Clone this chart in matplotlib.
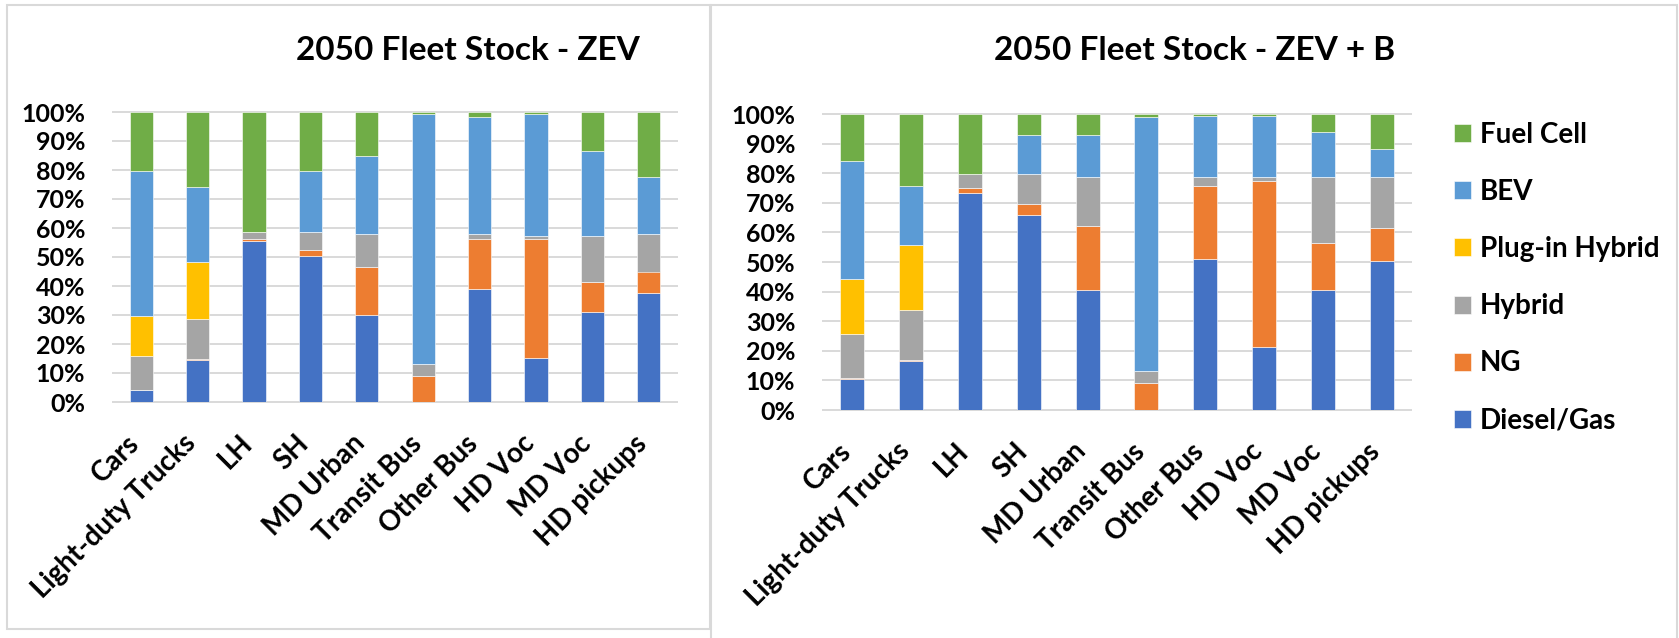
import matplotlib
matplotlib.use("Agg")
import matplotlib.pyplot as plt
import matplotlib.transforms as mtransforms
from matplotlib.patches import Rectangle
import numpy as np

plt.rcParams['font.family'] = ['Lato', 'DejaVu Sans']
plt.rcParams['font.weight'] = 'bold'

categories = ["Cars", "Light-duty Trucks", "LH", "SH", "MD Urban",
              "Transit Bus", "Other Bus", "HD Voc", "MD Voc", "HD pickups"]
series_names = ["Diesel/Gas", "NG", "Hybrid", "Plug-in Hybrid", "BEV", "Fuel Cell"]
series_colors = ["#4472C4", "#ED7D31", "#A5A5A5", "#FFC000", "#5B9BD5", "#70AD47"]

# 2050 fleet stock shares (%), ZEV scenario
zev_diesel = [4.0, 14.5, 55.5, 50.5, 30.0, 0.0, 39.0, 15.3, 31.0, 37.7]
zev_ng = [0.2, 0.2, 0.6, 2.0, 16.5, 9.1, 17.2, 41.0, 10.5, 7.3]
zev_hybrid = [11.8, 14.0, 2.4, 6.1, 11.3, 3.9, 1.6, 1.0, 15.8, 13.0]
zev_phev = [13.5, 19.6, 0, 0, 0, 0, 0, 0, 0, 0]
zev_bev = [50.0, 26.0, 0.0, 21.0, 27.0, 86.2, 40.6, 42.1, 29.2, 19.5]
zev_fc = [20.5, 25.7, 41.5, 20.4, 15.2, 0.8, 1.6, 0.6, 13.5, 22.5]

# 2050 fleet stock shares (%), ZEV + B scenario
zevb_diesel = [10.5, 16.6, 73.4, 66.0, 40.7, 0.0, 51.0, 21.2, 40.7, 50.2]
zevb_ng = [0.3, 0.2, 1.7, 3.7, 21.6, 9.2, 24.8, 56.1, 15.6, 11.4]
zevb_hybrid = [14.9, 17.1, 4.5, 9.9, 16.4, 3.9, 2.9, 1.4, 22.4, 17.1]
zevb_phev = [18.7, 21.8, 0, 0, 0, 0, 0, 0, 0, 0]
zevb_bev = [39.6, 20.1, 0.0, 13.4, 14.3, 85.8, 20.6, 20.6, 15.1, 9.5]
zevb_fc = [16.0, 24.2, 20.4, 7.0, 7.0, 1.1, 0.7, 0.7, 6.2, 11.8]

W, H = 1679, 638
GRID = "#D9D9D9"


def px_rect(left, top, right, bottom):
    return [left / W, 1 - bottom / H, (right - left) / W, (bottom - top) / H]


def draw_stack(ax, stacks):
    x = np.arange(len(categories))
    bottom = np.zeros(len(categories))
    handles = []
    for name, color, vals in zip(series_names, series_colors, stacks):
        vals = np.asarray(vals, dtype=float)
        h = ax.bar(x, vals, width=0.41, bottom=bottom, color=color,
                   edgecolor="white", linewidth=0.4, label=name, zorder=2)
        handles.append(h)
        bottom += vals
    ax.set_xlim(-0.5, len(categories) - 0.5)
    ax.set_ylim(0, 100)
    ticks = np.arange(0, 101, 10)
    ax.set_yticks(ticks)
    ax.set_yticklabels([f"{t}%" for t in ticks], fontsize=18, fontweight="bold")
    ax.set_xticks(x)
    ax.set_xticklabels(categories, rotation=45, ha="right", va="baseline",
                       rotation_mode="anchor", fontsize=20, fontweight="bold")
    # nudge the rotated category labels a little to the right
    shift = mtransforms.ScaledTranslation(4 / 100, 0, ax.figure.dpi_scale_trans)
    for lbl in ax.get_xticklabels():
        lbl.set_transform(lbl.get_transform() + shift)
    ax.tick_params(axis="both", length=0)
    ax.tick_params(axis="y", pad=20)
    ax.tick_params(axis="x", pad=31)
    for t in ticks:
        ax.axhline(t, color=GRID, linewidth=1.4, zorder=1, clip_on=False)
    for s in ax.spines.values():
        s.set_visible(False)
    return handles


fig = plt.figure(figsize=(W / 100, H / 100), dpi=100)

# panel frames
fig.patches.append(Rectangle((7 / W, 1 - 629 / H), (710 - 7) / W, (629 - 5) / H,
                             transform=fig.transFigure, fill=False,
                             edgecolor=GRID, linewidth=1.5))
fig.patches.append(Rectangle((711 / W, -0.05), (1677 - 711) / W, 1.05 - 5 / H,
                             transform=fig.transFigure, fill=False,
                             edgecolor=GRID, linewidth=1.5))

ax1 = fig.add_axes(px_rect(113, 112, 677, 402))
draw_stack(ax1, [zev_diesel, zev_ng, zev_hybrid, zev_phev, zev_bev, zev_fc])

ax2 = fig.add_axes(px_rect(823, 114, 1411, 410))
handles = draw_stack(ax2, [zevb_diesel, zevb_ng, zevb_hybrid, zevb_phev, zevb_bev, zevb_fc])

fig.text(468 / W, 1 - 51 / H, "2050 Fleet Stock - ZEV", ha="center", va="center",
         fontsize=24, fontweight="bold")
fig.text(1195 / W, 1 - 51 / H, "2050 Fleet Stock - ZEV + B", ha="center", va="center",
         fontsize=24, fontweight="bold")

leg = fig.legend(handles[::-1], series_names[::-1], loc="upper left",
                 bbox_to_anchor=(1454 / W, 1 - 122 / H), frameon=False,
                 prop={"size": 20, "weight": "bold"}, handlelength=0.62,
                 handleheight=0.62, handletextpad=0.3, labelspacing=1.12,
                 borderpad=0, borderaxespad=0)

fig.savefig("out.png", dpi=100)
